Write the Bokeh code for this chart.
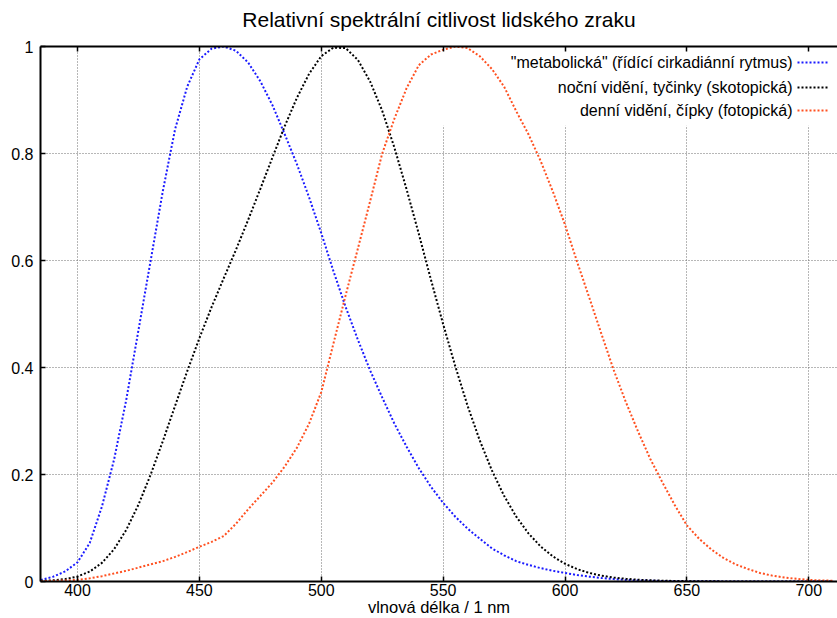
from bokeh.plotting import figure
from bokeh.models import (FixedTicker, PrintfTickFormatter, LinearAxis, BoxAnnotation,
                          Label, Arrow, Range1d, ColumnDataSource, CustomLabelingPolicy)
from bokeh.embed import file_html
from bokeh.resources import INLINE

# ---------------- data ----------------
wavelength = list(range(380, 711, 5))

melanopic = [0.001, 0.003, 0.009, 0.019, 0.036, 0.072, 0.14, 0.228, 0.34, 0.47,
             0.60, 0.73, 0.845, 0.925, 0.976, 0.996, 1.0, 0.992, 0.97, 0.935,
             0.89, 0.836, 0.78, 0.718, 0.651, 0.58, 0.513, 0.452, 0.395, 0.344,
             0.295, 0.252, 0.212, 0.177, 0.147, 0.121, 0.099, 0.08, 0.062, 0.049,
             0.038, 0.031, 0.025, 0.02, 0.016, 0.012, 0.009, 0.0065, 0.0045, 0.003,
             0.002, 0.0015, 0.001, 0.0007, 0.0005, 0.0004, 0.0003, 0.0002, 0.00015, 0.0001,
             0.00008, 0.00006, 0.00004, 0.00003, 0.00002, 0.00002, 0.00001]

scotopic = [0.000589, 0.001108, 0.002209, 0.00453, 0.00929, 0.01852, 0.03484, 0.0604, 0.0966, 0.1436,
            0.1998, 0.2625, 0.3281, 0.3931, 0.455, 0.513, 0.567, 0.620, 0.676, 0.734,
            0.793, 0.851, 0.904, 0.949, 0.982, 0.998, 0.997, 0.975, 0.935, 0.880,
            0.811, 0.733, 0.650, 0.564, 0.481, 0.402, 0.3288, 0.2639, 0.2076, 0.1602,
            0.1212, 0.0899, 0.0655, 0.0469, 0.03315, 0.02312, 0.01593, 0.01088, 0.00737, 0.00497,
            0.003335, 0.002235, 0.001497, 0.001005, 0.000677, 0.000459, 0.000313, 0.000215, 0.000148, 0.000103,
            0.000072, 0.0000504, 0.0000354, 0.0000251, 0.0000178, 0.0000127, 0.0000091]

photopic = [0.0003, 0.0008, 0.0013, 0.002, 0.003, 0.006, 0.010, 0.015, 0.020, 0.026,
            0.032, 0.038, 0.046, 0.055, 0.065, 0.074, 0.085, 0.108, 0.135, 0.16,
            0.185, 0.215, 0.25, 0.295, 0.354, 0.445, 0.535, 0.622, 0.71, 0.80,
            0.865, 0.922, 0.965, 0.985, 0.994, 1.0, 0.997, 0.982, 0.958, 0.925,
            0.879, 0.836, 0.786, 0.729, 0.667, 0.597, 0.53, 0.462, 0.395, 0.335,
            0.28, 0.229, 0.185, 0.143, 0.105, 0.080, 0.060, 0.044, 0.032, 0.0235,
            0.016, 0.011, 0.0075, 0.005, 0.003, 0.002, 0.0015]

x_ticks = [400, 450, 500, 550, 600, 650, 700]
y_ticks = [0, 0.2, 0.4, 0.6, 0.8, 1]

legend_labels = ['"metabolická" (řídící cirkadiánní rytmus)',
                 'noční vidění, tyčinky (skotopická)',
                 'denní vidění, čípky (fotopická)']
series_keys = ["mel", "sco", "pho"]
colors = ["#1a1aff", "#000000", "#ff5020"]

FONT = "Liberation Sans"

# ---------------- figure ----------------
src = ColumnDataSource(dict(wl=wavelength, mel=melanopic, sco=scotopic, pho=photopic))

p = figure(width=837, height=618, output_backend="svg", toolbar_location=None,
           x_range=Range1d(384.8, 711.8), y_range=Range1d(0, 1),
           title="Relativní spektrální citlivost lidského zraku",
           min_border_left=40, min_border_right=0, min_border_top=42, min_border_bottom=37)
p.outline_line_color = None
p.background_fill_color = "white"
p.border_fill_color = "white"

p.title.text_font = FONT
p.title.text_font_size = "21px"
p.title.text_font_style = "normal"
p.title.text_color = "black"
p.title.align = "center"
p.title.standoff = 10

# axes
for ax in (p.xaxis[0], p.yaxis[0]):
    ax.axis_line_width = 2
    ax.axis_line_color = "black"
    ax.major_tick_in = 5
    ax.major_tick_out = 0
    ax.major_tick_line_width = 1.5
    ax.minor_tick_line_color = None
    ax.major_label_text_font = FONT
    ax.major_label_text_font_size = "16px"
    ax.major_label_text_color = "black"

p.xaxis.ticker = FixedTicker(ticks=x_ticks)
p.yaxis.ticker = FixedTicker(ticks=y_ticks)
p.yaxis.formatter = PrintfTickFormatter(format="%g")
p.xaxis.major_label_standoff = 2
p.yaxis.major_label_standoff = 7
p.xaxis.axis_label = "vlnová délka / 1 nm"
p.xaxis.axis_label_text_font = FONT
p.xaxis.axis_label_text_font_size = "16.5px"
p.xaxis.axis_label_text_font_style = "normal"
p.xaxis.axis_label_text_color = "black"
p.xaxis.axis_label_standoff = -1

# top border with mirrored ticks (no labels)
top = LinearAxis(ticker=FixedTicker(ticks=x_ticks),
                 major_label_policy=CustomLabelingPolicy(code="return new Set()"))
top.axis_line_width = 2
top.major_tick_in = 5
top.major_tick_out = 0
top.major_tick_line_width = 1.5
top.minor_tick_line_color = None
top.major_label_standoff = 0
p.add_layout(top, "above")

# grid
for g in (p.xgrid[0], p.ygrid[0]):
    g.grid_line_color = "#6e6e6e"
    g.grid_line_dash = "1 2"
    g.grid_line_width = 1
p.xgrid.ticker = FixedTicker(ticks=x_ticks)
p.ygrid.ticker = FixedTicker(ticks=y_ticks)

# key background (hides grid behind the key, as in the reference)
p.add_layout(BoxAnnotation(left=544.5, bottom=0.852, fill_color="white", fill_alpha=1.0,
                           line_color=None, level="underlay"))

# curves
for key, col in zip(series_keys, colors):
    p.line(x="wl", y=key, source=src, line_color=col, line_width=2, line_dash="2 2")

# key (text right-aligned, sample to the right, like the reference)
row_y = [519, 494, 471]
for lab, col, yy in zip(legend_labels, colors, row_y):
    p.add_layout(Label(x=752, y=yy, x_units="screen", y_units="screen", text=lab,
                       text_align="right", text_baseline="middle",
                       text_font=FONT, text_font_size="16px", text_color="black"))
    p.add_layout(Arrow(end=None, x_start=757, y_start=yy, x_end=789, y_end=yy,
                       start_units="screen", end_units="screen",
                       line_color=col, line_width=2, line_dash="2 2"))

open("out.html", "w").write(file_html(p, INLINE))
